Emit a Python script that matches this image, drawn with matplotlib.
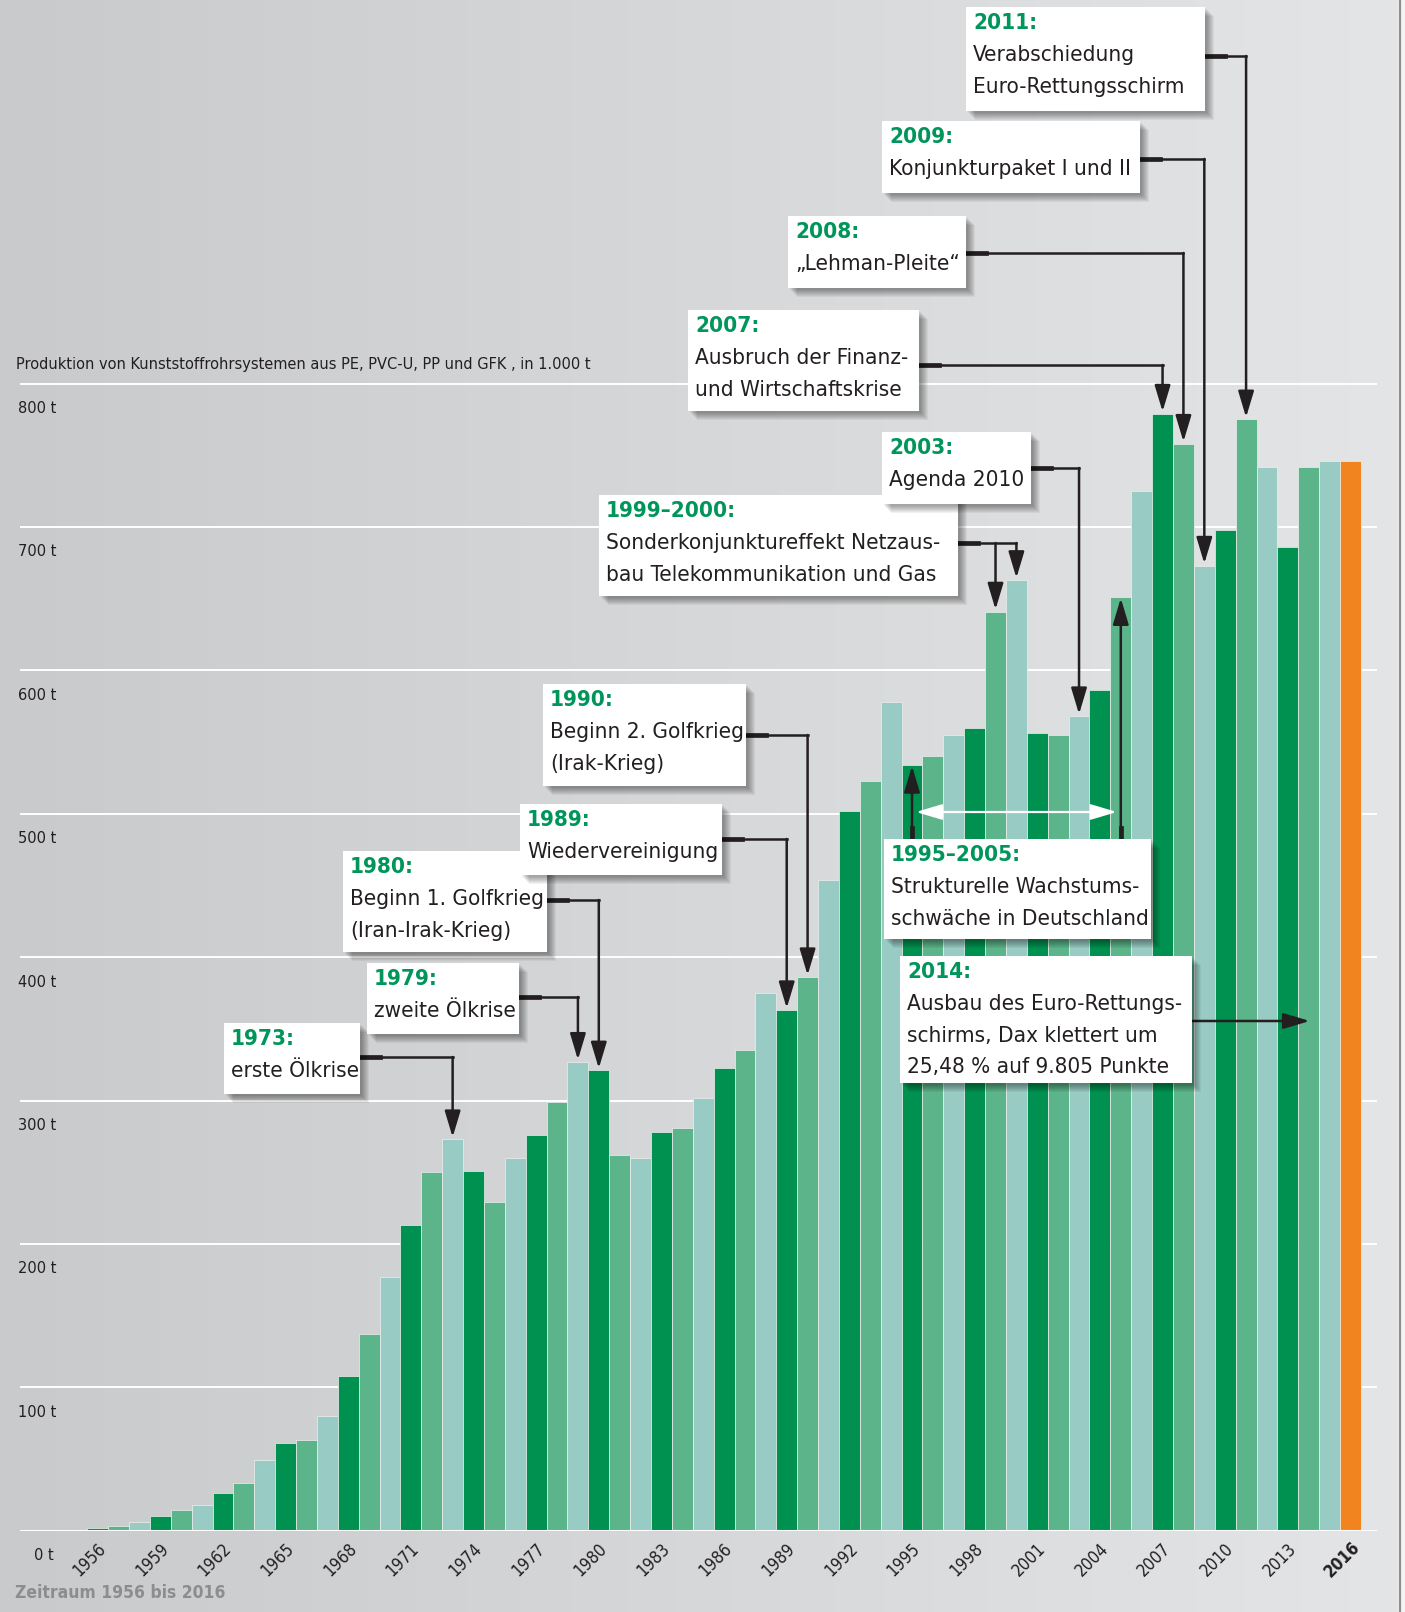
import matplotlib.pyplot as plt
import numpy as np
from matplotlib import font_manager as fm
from matplotlib.patches import Rectangle
from matplotlib.colors import LinearSegmentedColormap

# schmale Schrift, falls vorhanden
condensed = [f for f in fm.fontManager.ttflist
             if f.name == 'DejaVu Sans' and 'ondensed' in (str(f.stretch) + f.fname)]
if condensed:
    plt.rcParams['font.family'] = ['DejaVu Sans']
    plt.rcParams['font.stretch'] = 'condensed'
else:
    plt.rcParams['font.family'] = ['Liberation Sans', 'DejaVu Sans']

# Daten: Produktion in 1.000 t
years = np.arange(1956, 2017)
values = [2, 3.5, 6, 10.5, 14.5, 18, 26, 33, 49, 61, 63, 80,
          108, 137, 177, 213, 250, 273, 251, 229, 260, 276,
          299, 327, 321, 262, 260, 278, 281, 302, 323, 335,
          375, 363, 386, 454, 502, 523, 578, 534, 540, 555,
          560, 641, 663, 556, 555, 568, 586, 651, 725, 779,
          758, 673, 698, 775, 742, 686, 742, 746, 746]
y_ticks = [0, 100, 200, 300, 400, 500, 600, 700, 800]
x_tick_years = list(range(1956, 2017, 3))

green = '#00955a'
dark = '#231f20'
palette = ['#00904f', '#5bb48a', '#98cbc3']
bar_colors = [palette[i % 3] for i in range(len(years))]
bar_colors[-1] = '#f28420'

W, H = 1405, 1612
fig = plt.figure(figsize=(W / 100, H / 100), dpi=100)
renderer = fig.canvas.get_renderer()


def fit(sample, target, **kw):
    # Schriftgröße so wählen, dass der Text die Breite aus der Vorlage hat
    t = fig.text(0, 0, sample, fontsize=20, **kw)
    w = t.get_window_extent(renderer=renderer).width
    t.remove()
    return 20 * target / w


title = 'Produktion von Kunststoffrohrsystemen aus PE, PVC-U, PP und GFK , in 1.000 t'
fs = fit('Euro-Rettungsschirm', 211)
fs_small = fit(title, 575)
fs_foot = fit('Zeitraum 1956 bis 2016', 210, fontweight='bold')

# Hintergrund mit Verlauf
bg = fig.add_axes([0, 0, 1, 1], zorder=0)
cmap = LinearSegmentedColormap.from_list('bg', ['#c9cacc', '#e4e5e7'])
bg.imshow(np.linspace(0, 1, 256)[None, :], cmap=cmap, aspect='auto', extent=[0, 1, 0, 1])
bg.axis('off')

# Hauptachse mit Balken
base_px = 1530.7
ax = fig.add_axes([20 / W, 1 - base_px / H, 1357 / W, base_px / H], zorder=1)
ax.patch.set_alpha(0)
ax.set_xlim(1952.28, 2017.27)
ax.set_ylim(0, base_px / 1.434)
ax.axis('off')
for v in y_ticks[1:]:
    ax.axhline(v, color='white', lw=1.4, zorder=0.5)
ax.bar(years, values, width=1.0, color=bar_colors, edgecolor='#eef0ee', linewidth=0.5, zorder=2)
ax.axhline(0, color='white', lw=2.2, zorder=3)

# Overlay in Pixelkoordinaten für Texte und Pfeile
ov = fig.add_axes([0, 0, 1, 1], zorder=3)
ov.set_xlim(0, W)
ov.set_ylim(H, 0)
ov.axis('off')
ov.patch.set_alpha(0)


def to_px(x, y):
    return ov.transData.inverted().transform(ax.transData.transform((x, y)))


# Achsenbeschriftung
for v in y_ticks:
    _, yp = to_px(0, v)
    ov.text(34 if v == 0 else 18, yp + 25, f'{v} t', fontsize=fs_small, color=dark, va='center')
ov.text(16, 365, title, fontsize=fs_small, color=dark, va='center')
for yr in x_tick_years:
    xp, yp = to_px(yr, 0)
    ov.text(xp - 8, yp + 29, str(yr), fontsize=fs_small + 0.5, color=dark, rotation=45,
            ha='center', va='center', fontweight='semibold' if yr == 2016 else 'normal')
ov.text(15, 1593, 'Zeitraum 1956 bis 2016', fontsize=fs_foot, color='#8d8d8d',
        fontweight='bold', va='center')

# rechter Rand
ov.add_patch(Rectangle((1398, 0), 7, H, fc='#f4f4f4', ec='none'))
ov.plot([1399.5, 1399.5], [0, H], color='#8e8e8e', lw=1.6)

# Ereignis-Boxen: (x0, y0, x1, y1) in Pixeln, Anbindungshöhe, Zieljahre, Art
notes = [
    ((224, 1023, 360, 1094), '1973:', ['erste Ölkrise'], 1057, [1973], 'down'),
    ((367, 963, 519, 1034), '1979:', ['zweite Ölkrise'], 997, [1979], 'down'),
    ((343, 851, 547, 952), '1980:', ['Beginn 1. Golfkrieg', '(Iran-Irak-Krieg)'], 900, [1980], 'down'),
    ((520, 804, 722, 875), '1989:', ['Wiedervereinigung'], 839, [1989], 'down'),
    ((543, 684, 746, 786), '1990:', ['Beginn 2. Golfkrieg', '(Irak-Krieg)'], 735, [1990], 'down'),
    ((599, 495, 958, 596), '1999–2000:', ['Sonderkonjunktureffekt Netzaus-',
                                          'bau Telekommunikation und Gas'], 543, [1999, 2000], 'down'),
    ((882, 432, 1031, 504), '2003:', ['Agenda 2010'], 468, [2003], 'down'),
    ((688, 310, 919, 411), '2007:', ['Ausbruch der Finanz-', 'und Wirtschaftskrise'], 365, [2007], 'down'),
    ((788, 216, 966, 288), '2008:', ['„Lehman-Pleite“'], 253, [2008], 'down'),
    ((882, 121, 1140, 193), '2009:', ['Konjunkturpaket I und II'], 159, [2009], 'down'),
    ((966, 7, 1205, 111), '2011:', ['Verabschiedung', 'Euro-Rettungsschirm'], 56, [2011], 'down'),
    ((884, 839, 1151, 939), '1995–2005:', ['Strukturelle Wachstums-',
                                          'schwäche in Deutschland'], 812, [1995, 2005], 'up'),
    ((900, 956, 1192, 1083), '2014:', ['Ausbau des Euro-Rettungs-', 'schirms, Dax klettert um',
                                      '25,48 % auf 9.805 Punkte'], 1021, [2014], 'right'),
]

head = '-|>,head_length=0.8,head_width=0.24'
for i, (box, label, body, cy, targets, kind) in enumerate(notes):
    x0, y0, x1, y1 = box
    z = 10 + 3 * i
    # Schatten
    for d in range(2, 10):
        ov.add_patch(Rectangle((x0 + d, y0 + d), x1 - x0, y1 - y0, fc='black',
                               ec='none', alpha=0.05, zorder=z))
    ov.add_patch(Rectangle((x0, y0), x1 - x0, y1 - y0, fc='white', ec='none', zorder=z + 1))
    ov.text(x0 + 7, y0 + 16, label, color=green, fontsize=fs, fontweight='bold',
            va='center', zorder=z + 2)
    for j, line in enumerate(body):
        ov.text(x0 + 7, y0 + 16 + 31.8 * (j + 1), line, color=dark, fontsize=fs,
                va='center', zorder=z + 2)

    tips = [to_px(t, values[t - 1956]) for t in targets]
    if kind == 'down':
        xr = max(tx for tx, _ in tips)
        ov.plot([x1, xr], [cy, cy], color=dark, lw=1.8, zorder=5, solid_capstyle='projecting')
        ov.plot([x1, x1 + 20], [cy, cy], color=dark, lw=3.4, zorder=5)
        for tx, ty in tips:
            ov.annotate('', xy=(tx, ty - 2), xytext=(tx, cy),
                        arrowprops=dict(arrowstyle=head, color=dark, lw=1.8,
                                        mutation_scale=20, shrinkA=0, shrinkB=0), zorder=5)
    elif kind == 'up':
        for tx, ty in tips:
            ov.plot([tx, tx], [y0 - 11, y0], color=dark, lw=3.4, zorder=5)
            ov.annotate('', xy=(tx, ty + 1), xytext=(tx, y0),
                        arrowprops=dict(arrowstyle=head, color=dark, lw=1.8,
                                        mutation_scale=20, shrinkA=0, shrinkB=0), zorder=5)
        (ax_, _), (bx_, _) = tips
        ov.annotate('', xy=(bx_ - 4, cy), xytext=(ax_ + 4, cy),
                    arrowprops=dict(arrowstyle='<|-|>,head_length=0.8,head_width=0.24',
                                    color='white', lw=1.6, mutation_scale=20,
                                    shrinkA=0, shrinkB=0), zorder=5)
    else:
        tx, _ = tips[0]
        ov.annotate('', xy=(tx + 1, cy), xytext=(x1, cy),
                    arrowprops=dict(arrowstyle=head, color=dark, lw=1.8,
                                    mutation_scale=20, shrinkA=0, shrinkB=0), zorder=5)

fig.savefig('out.png', dpi=100)
